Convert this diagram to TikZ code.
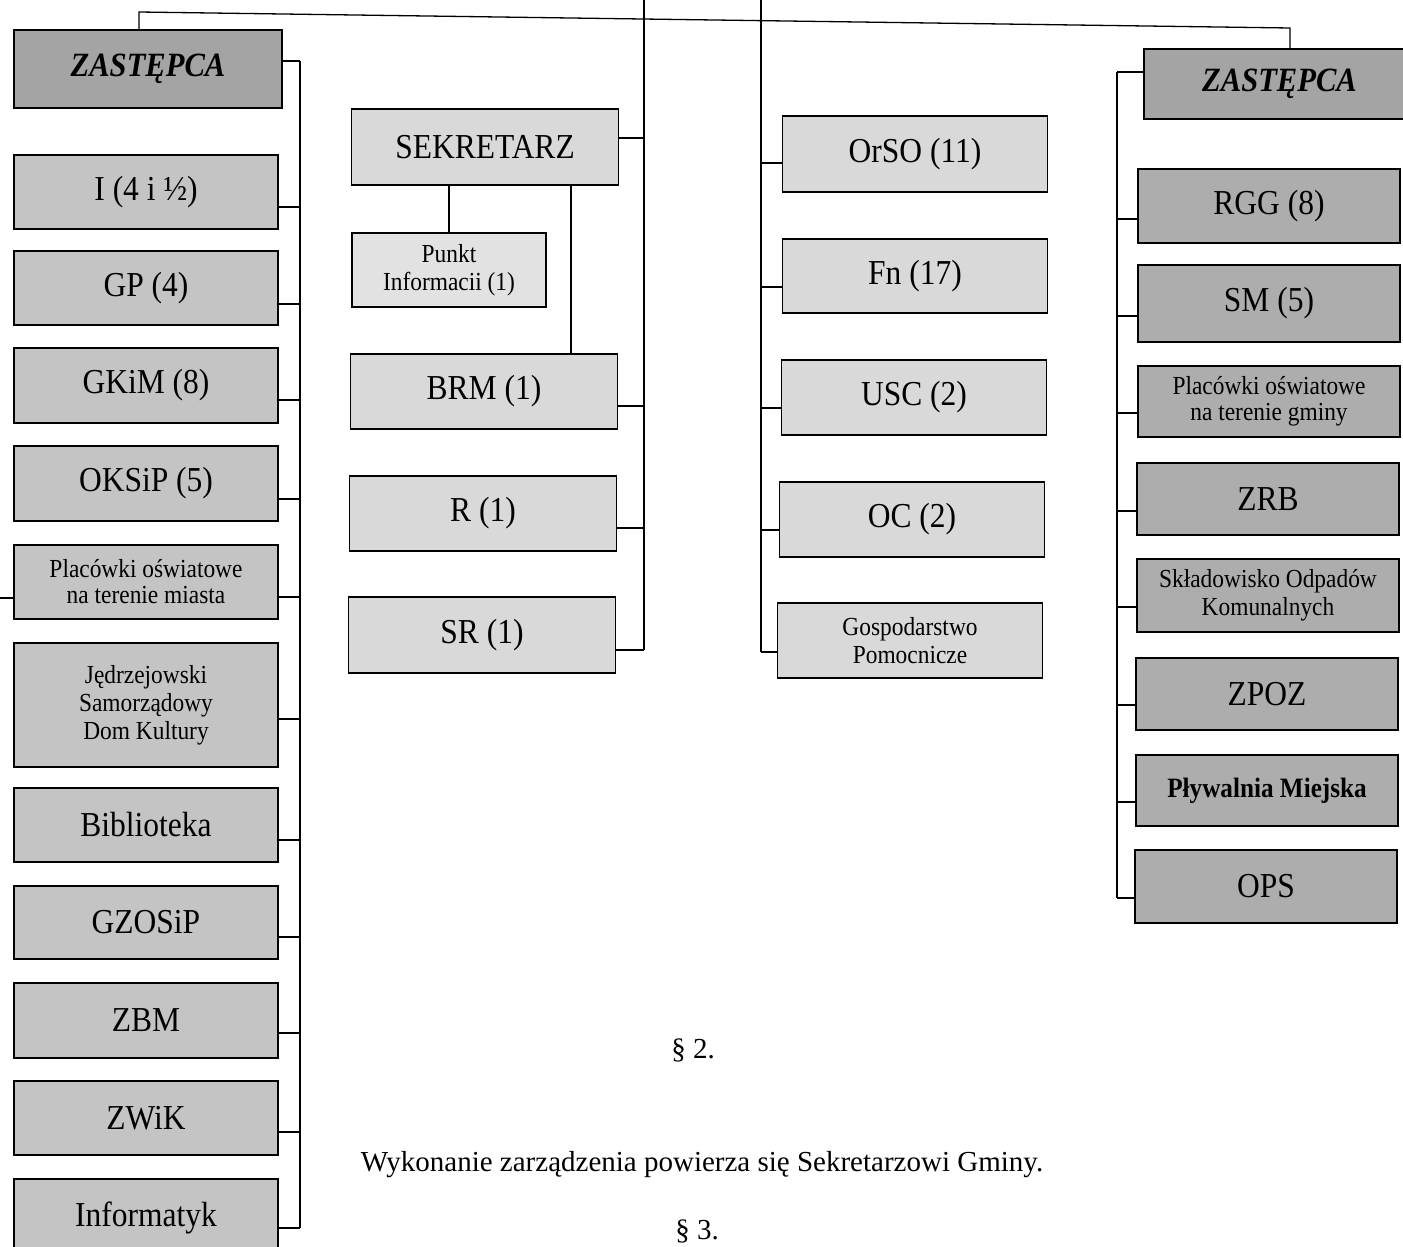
\documentclass[tikz,border=0pt]{standalone}
\usepackage{fontspec}
\setmainfont{Liberation Serif}[FakeStretch=0.9]
\newfontfamily\parafont{Liberation Serif}
\definecolor{zastL}{HTML}{A4A4A4}
\definecolor{colL}{HTML}{C4C4C4}
\definecolor{colM}{HTML}{D9D9D9}
\definecolor{colP}{HTML}{E2E2E2}
\definecolor{colR}{HTML}{ADADAD}
\begin{document}
\begin{tikzpicture}[x=1pt,y=-1pt,
  box/.style={draw=black, line width=1.6pt, inner sep=2pt, align=center, text=black},
  big/.style={font=\fontsize{35}{38}\selectfont},
  small/.style={font=\fontsize{26}{28}\selectfont},
  zast/.style={font=\fontsize{34}{36}\selectfont\bfseries\itshape},
  lbox/.style={box, fill=colL, minimum width=264, minimum height=74},
  mbox/.style={box, fill=colM, minimum width=267, minimum height=75},
  rbox/.style={box, fill=colR, minimum width=262, minimum height=73},
  conn/.style={line width=1.3pt},
  para/.style={font=\parafont\fontsize{29}{32}\selectfont, text=black}]
\useasboundingbox (0,0) rectangle (1403,1247);
\fill[white] (0,0) rectangle (1403,1247);

% ---------- coordinates for buses ----------
\coordinate (tl) at (139,12);
\coordinate (tr) at (1290,28);
\coordinate (lbTop) at (300,61);
\coordinate (lbBot) at (300,1228);
\coordinate (mlTop) at (644,-5);
\coordinate (mlBot) at (644,650);
\coordinate (mrTop) at (761,-5);
\coordinate (mrBot) at (761,652);
\coordinate (rbTop) at (1117,72);
\coordinate (rbBot) at (1117,898);
\coordinate (stub) at (0,598);

% ---------- left column ----------
\node[box, fill=zastL, zast, minimum width=268, minimum height=78] (zl) at (148,69) {ZASTĘPCA};
\node[lbox, big] (nI) at (146,192) {I (4 i ½)};
\node[lbox, big] (nGP) at (146,288) {GP (4)};
\node[lbox, big, minimum height=75] (nGKiM) at (146,385.5) {GKiM (8)};
\node[lbox, big, minimum height=75] (nOKSiP) at (146,483.5) {OKSiP (5)};
\node[lbox, font=\fontsize{26}{26}\selectfont] (nPlM) at (146,582) {Placówki oświatowe\\na terenie miasta};
\node[lbox, small, minimum height=124] (nJSDK) at (146,705) {Jędrzejowski\\Samorządowy\\Dom Kultury};
\node[lbox, big] (nBib) at (146,825) {Biblioteka};
\node[lbox, big, minimum height=73] (nGZ) at (146,922.5) {GZOSiP};
\node[lbox, big, minimum height=75] (nZBM) at (146,1020.5) {ZBM};
\node[lbox, big] (nZWiK) at (146,1118) {ZWiK};
\node[lbox, big, minimum height=77] (nInf) at (146,1217.5) {Informatyk};

% ---------- middle left ----------
\node[mbox, big, minimum height=76] (sek) at (485,147) {SEKRETARZ};
\node[box, fill=colP, small, minimum width=194, minimum height=74] (punkt) at (449,270) {Punkt\\Informacii (1)};
\node[mbox, big] (brm) at (484,391.5) {BRM (1)};
\node[mbox, big] (rr) at (483,513.5) {R (1)};
\node[mbox, big, minimum height=76] (sr) at (482,635) {SR (1)};

% ---------- middle right ----------
\node[mbox, big, minimum width=265, minimum height=76] (orso) at (915,154) {OrSO (11)};
\node[mbox, big, minimum width=265, minimum height=74] (fn) at (915,276) {Fn (17)};
\node[mbox, big, minimum width=265] (usc) at (914,397.5) {USC (2)};
\node[mbox, big, minimum width=265] (oc) at (912,519.5) {OC (2)};
\node[mbox, small, minimum width=265] (gosp) at (910,640.5) {Gospodarstwo\\Pomocnicze};

% ---------- right column ----------
\node[box, fill=zastL, zast, minimum width=271, minimum height=70] (zr) at (1279.5,84) {ZASTĘPCA};
\node[rbox, big, minimum height=74] (rgg) at (1269,206) {RGG (8)};
\node[rbox, big, minimum height=77] (sm) at (1269,303.5) {SM (5)};
\node[rbox, font=\fontsize{26}{26}\selectfont, minimum height=71] (plg) at (1269,401.5) {Placówki oświatowe\\na terenie gminy};
\node[rbox, font=\fontsize{26}{28}\selectfont] (skl) at (1268,595.5) {Składowisko Odpadów\\Komunalnych};
\node[rbox, big, minimum height=72] (zrb) at (1268,499) {ZRB};
\node[rbox, big, minimum height=72] (zpoz) at (1267,694) {ZPOZ};
\node[rbox, font=\fontsize{28}{30}\selectfont\bfseries, minimum height=71] (plyw) at (1267,790.5) {Pływalnia Miejska};
\node[rbox, big] (ops) at (1266,886.5) {OPS};

% ---------- top connector ----------
\draw[conn] (zl.north -| tl) -- (tl) -- (tr) -- (zr.north -| tr);

% ---------- buses ----------
\draw[conn] (lbTop) -- (lbBot);
\draw[conn] (mlTop) -- (mlBot);
\draw[conn] (mrTop) -- (mrBot);
\draw[conn] (rbTop) -- (rbBot);

% ---------- left connectors ----------
\draw[conn] (zl.east |- lbTop) -- (lbTop);
\foreach \n/\yy in {nI/207, nGP/304, nGKiM/400, nOKSiP/499, nPlM/597, nJSDK/719, nBib/840, nGZ/937, nZBM/1033, nZWiK/1132, nInf/1228}
  \draw[conn] (\n.east |- 0,\yy) -- (lbTop |- 0,\yy);
\draw[conn] (stub) -- (nPlM.west |- stub);

% ---------- middle left connectors ----------
\foreach \n/\yy in {sek/138, brm/406, rr/528, sr/650}
  \draw[conn] (\n.east |- 0,\yy) -- (mlTop |- 0,\yy);
\draw[conn] (punkt.north) -- (punkt.north |- sek.south);
\coordinate (sekdrop) at (571,0);
\draw[conn] (sek.south -| sekdrop) -- (brm.north -| sekdrop);

% ---------- middle right connectors ----------
\foreach \n/\yy in {orso/163, fn/287, usc/408, oc/530, gosp/652}
  \draw[conn] (mrTop |- 0,\yy) -- (\n.west |- 0,\yy);

% ---------- right connectors ----------
\draw[conn] (rbTop) -- (zr.west |- rbTop);
\foreach \n/\yy in {rgg/219, sm/316, plg/413, zrb/511, skl/607, zpoz/705, plyw/802, ops/898}
  \draw[conn] (rbTop |- 0,\yy) -- (\n.west |- 0,\yy);

% ---------- text below ----------
\node[para] (p2) at (693,1050) {§ 2.};
\node[para] (wyk) at (702,1165) {Wykonanie zarządzenia powierza się Sekretarzowi Gminy.};
\node[para, anchor=south] (p3) at (697,1247) {§ 3.};
\end{tikzpicture}
\end{document}
